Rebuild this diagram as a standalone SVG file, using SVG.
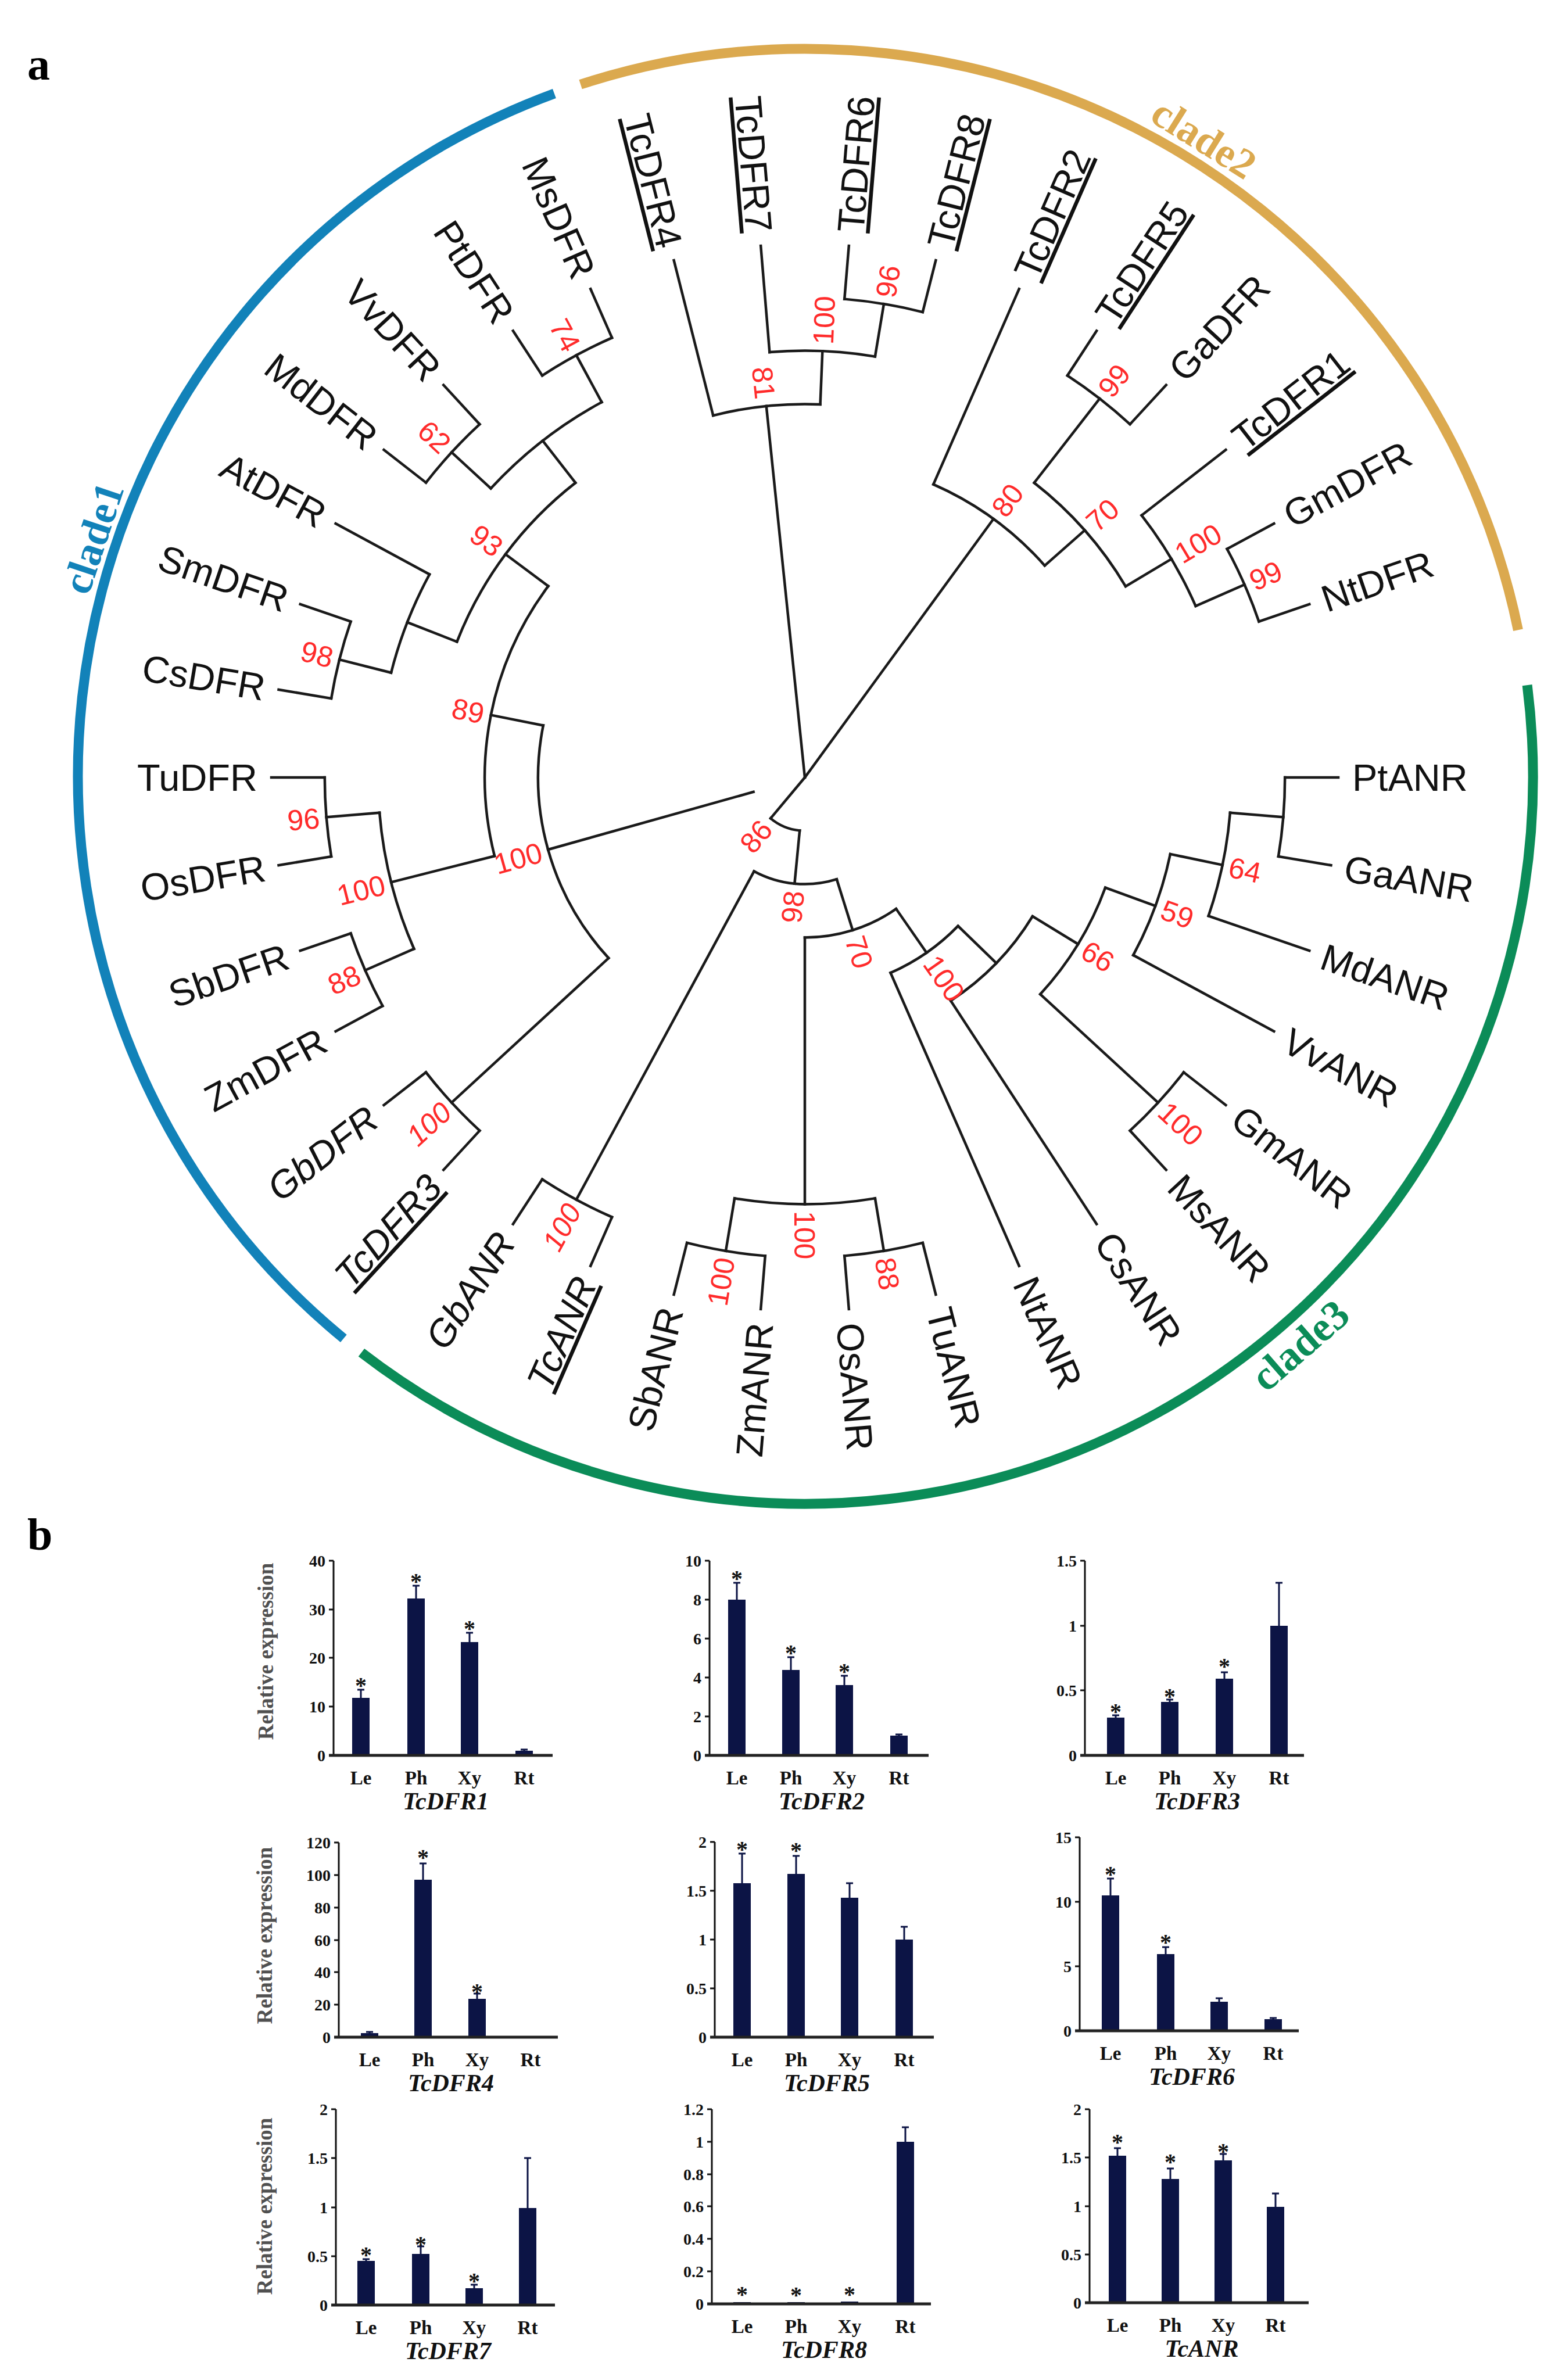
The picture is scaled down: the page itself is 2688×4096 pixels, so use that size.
<svg xmlns="http://www.w3.org/2000/svg" width="2688" height="4096" viewBox="0 0 2688 4096">
<style>
.br{fill:none;stroke:#1a1a1a;stroke-width:4.5;stroke-linecap:square}
.lf{font-family:"Liberation Sans",Arial,sans-serif;font-size:65px;fill:#111}
.lf .r{text-anchor:end}
.it{font-style:italic}
.u{text-decoration:underline}
.bs{font-family:"Liberation Sans",Arial,sans-serif;font-size:50px;fill:#ff2b2b}
.cl{font-family:"Liberation Serif","Times New Roman",serif;font-weight:bold;font-size:72px;text-anchor:middle}
.pl{font-family:"Liberation Serif","Times New Roman",serif;font-weight:bold;font-size:78px;fill:#000}
.ax{stroke:#111;stroke-width:3}
.xa{stroke:#222;stroke-width:5}
.tk{stroke:#111;stroke-width:3;fill:none}
.tl{font-family:"Liberation Serif","Times New Roman",serif;font-weight:bold;font-size:28px;text-anchor:end;fill:#111}
.bar{fill:#0c1445}
.eb{stroke:#0c1445;stroke-width:3;fill:none}
.ast{font-family:"Liberation Serif","Times New Roman",serif;font-weight:bold;font-size:40px;text-anchor:middle;fill:#111}
.xl{font-family:"Liberation Serif","Times New Roman",serif;font-weight:bold;font-size:33px;text-anchor:middle;fill:#111}
.gn{font-family:"Liberation Serif","Times New Roman",serif;font-weight:bold;font-style:italic;font-size:42px;text-anchor:middle;fill:#111}
.yl{font-family:"Liberation Serif","Times New Roman",serif;font-weight:bold;font-size:37px;text-anchor:middle;fill:#505050}
</style>
<rect width="2688" height="4096" fill="#fff"/>
<text class="pl" x="47" y="137">a</text>
<text class="pl" x="47" y="2667">b</text>

<g id="clades" transform="translate(1386 1336)">
<circle r="1252" fill="none" stroke="#1282b9" stroke-width="17" stroke-dasharray="2630.9 9000" transform="rotate(129.4)"/>
<circle r="1252" fill="none" stroke="#dba94f" stroke-width="17" stroke-dasharray="2106.4 9000" transform="rotate(252)"/>
<circle r="1252" fill="none" stroke="#0b8c58" stroke-width="17" stroke-dasharray="2945.5 9000" transform="rotate(352.8)"/>
<text class="cl" fill="#1282b9" dy="0.3em" transform="rotate(198.5) translate(1290 0) rotate(90)">clade1</text>
<text class="cl" fill="#dba94f" dy="0.3em" transform="rotate(302) translate(1292 0) rotate(90)">clade2</text>
<text class="cl" fill="#0b8c58" dy="0.3em" transform="rotate(49) translate(1300 0) rotate(-90)">clade3</text>
</g>

<g id="tree" transform="translate(1385 1338)">
<g id="connectors" class="br">
<line x2="642.6" transform="rotate(264.079)"/>
<line x2="550.8" transform="rotate(306.118)"/>
<line x2="91.8" transform="rotate(129.912)"/>
<line x1="91.8" x2="459" transform="rotate(164.309)"/>
<line x1="91.8" x2="183.6" transform="rotate(95.514)"/>
<line x1="183.6" x2="826.2" transform="rotate(118.421)"/>
<line x1="183.6" x2="275.4" transform="rotate(72.607)"/>
<line x1="275.4" x2="734.4" transform="rotate(90)"/>
<line x1="275.4" x2="367.2" transform="rotate(55.214)"/>
<line x1="367.2" x2="918" transform="rotate(66.316)"/>
<line x1="367.2" x2="459" transform="rotate(44.112)"/>
<line x1="459" x2="918" transform="rotate(56.842)"/>
<line x1="459" x2="550.8" transform="rotate(31.382)"/>
<line x1="550.8" x2="826.2" transform="rotate(42.632)"/>
<line x1="550.8" x2="642.6" transform="rotate(20.132)"/>
<line x1="642.6" x2="918" transform="rotate(28.421)"/>
<line x1="642.6" x2="734.4" transform="rotate(11.842)"/>
<line x1="734.4" x2="918" transform="rotate(18.947)"/>
<line x1="734.4" x2="826.2" transform="rotate(4.737)"/>
<line x1="826.2" x2="918" transform="rotate(0)"/>
<line x1="826.2" x2="918" transform="rotate(9.474)"/>
<line x1="826.2" x2="918" transform="rotate(37.895)"/>
<line x1="826.2" x2="918" transform="rotate(47.368)"/>
<line x1="734.4" x2="826.2" transform="rotate(80.526)"/>
<line x1="734.4" x2="826.2" transform="rotate(99.474)"/>
<line x1="826.2" x2="918" transform="rotate(75.789)"/>
<line x1="826.2" x2="918" transform="rotate(85.263)"/>
<line x1="826.2" x2="918" transform="rotate(94.737)"/>
<line x1="826.2" x2="918" transform="rotate(104.211)"/>
<line x1="826.2" x2="918" transform="rotate(113.684)"/>
<line x1="826.2" x2="918" transform="rotate(123.158)"/>
<line x1="459" x2="826.2" transform="rotate(137.368)"/>
<line x1="459" x2="550.8" transform="rotate(191.25)"/>
<line x1="826.2" x2="918" transform="rotate(132.632)"/>
<line x1="826.2" x2="918" transform="rotate(142.105)"/>
<line x1="550.8" x2="734.4" transform="rotate(165.789)"/>
<line x1="550.8" x2="642.6" transform="rotate(216.711)"/>
<line x1="734.4" x2="826.2" transform="rotate(156.316)"/>
<line x1="734.4" x2="826.2" transform="rotate(175.263)"/>
<line x1="826.2" x2="918" transform="rotate(151.579)"/>
<line x1="826.2" x2="918" transform="rotate(161.053)"/>
<line x1="826.2" x2="918" transform="rotate(170.526)"/>
<line x1="826.2" x2="918" transform="rotate(180)"/>
<line x1="642.6" x2="734.4" transform="rotate(201.316)"/>
<line x1="642.6" x2="734.4" transform="rotate(232.105)"/>
<line x1="734.4" x2="826.2" transform="rotate(194.211)"/>
<line x1="734.4" x2="918" transform="rotate(208.421)"/>
<line x1="826.2" x2="918" transform="rotate(189.474)"/>
<line x1="826.2" x2="918" transform="rotate(198.947)"/>
<line x1="734.4" x2="826.2" transform="rotate(222.632)"/>
<line x1="734.4" x2="826.2" transform="rotate(241.579)"/>
<line x1="826.2" x2="918" transform="rotate(217.895)"/>
<line x1="826.2" x2="918" transform="rotate(227.368)"/>
<line x1="826.2" x2="918" transform="rotate(236.842)"/>
<line x1="826.2" x2="918" transform="rotate(246.316)"/>
<line x1="642.6" x2="918" transform="rotate(255.789)"/>
<line x1="642.6" x2="734.4" transform="rotate(272.368)"/>
<line x1="734.4" x2="918" transform="rotate(265.263)"/>
<line x1="734.4" x2="826.2" transform="rotate(279.474)"/>
<line x1="826.2" x2="918" transform="rotate(274.737)"/>
<line x1="826.2" x2="918" transform="rotate(284.211)"/>
<line x1="550.8" x2="918" transform="rotate(293.684)"/>
<line x1="550.8" x2="642.6" transform="rotate(318.553)"/>
<line x1="642.6" x2="826.2" transform="rotate(307.895)"/>
<line x1="642.6" x2="734.4" transform="rotate(329.211)"/>
<line x1="826.2" x2="918" transform="rotate(303.158)"/>
<line x1="826.2" x2="918" transform="rotate(312.632)"/>
<line x1="734.4" x2="918" transform="rotate(322.105)"/>
<line x1="734.4" x2="826.2" transform="rotate(336.316)"/>
<line x1="826.2" x2="918" transform="rotate(331.579)"/>
<line x1="826.2" x2="918" transform="rotate(341.053)"/>
<circle r="826.2" stroke-dasharray="136.61 9000" transform="rotate(274.737)"/>
<circle r="734.4" stroke-dasharray="182.15 9000" transform="rotate(265.263)"/>
<circle r="642.6" stroke-dasharray="185.94 9000" transform="rotate(255.789)"/>
<circle r="826.2" stroke-dasharray="136.61 9000" transform="rotate(303.158)"/>
<circle r="826.2" stroke-dasharray="136.61 9000" transform="rotate(331.579)"/>
<circle r="734.4" stroke-dasharray="182.15 9000" transform="rotate(322.105)"/>
<circle r="642.6" stroke-dasharray="239.07 9000" transform="rotate(307.895)"/>
<circle r="550.8" stroke-dasharray="239.07 9000" transform="rotate(293.684)"/>
<circle r="826.2" stroke-dasharray="136.61 9000" transform="rotate(0)"/>
<circle r="734.4" stroke-dasharray="182.14 9000" transform="rotate(4.737)"/>
<circle r="642.6" stroke-dasharray="185.94 9000" transform="rotate(11.842)"/>
<circle r="826.2" stroke-dasharray="136.61 9000" transform="rotate(37.895)"/>
<circle r="550.8" stroke-dasharray="216.30 9000" transform="rotate(20.132)"/>
<circle r="459" stroke-dasharray="203.96 9000" transform="rotate(31.382)"/>
<circle r="367.2" stroke-dasharray="142.30 9000" transform="rotate(44.112)"/>
<circle r="826.2" stroke-dasharray="136.61 9000" transform="rotate(75.789)"/>
<circle r="826.2" stroke-dasharray="136.61 9000" transform="rotate(94.737)"/>
<circle r="734.4" stroke-dasharray="242.87 9000" transform="rotate(80.526)"/>
<circle r="275.4" stroke-dasharray="167.21 9000" transform="rotate(55.214)"/>
<circle r="826.2" stroke-dasharray="136.61 9000" transform="rotate(113.684)"/>
<circle r="183.6" stroke-dasharray="146.81 9000" transform="rotate(72.607)"/>
<circle r="826.2" stroke-dasharray="136.61 9000" transform="rotate(132.632)"/>
<circle r="826.2" stroke-dasharray="136.61 9000" transform="rotate(151.579)"/>
<circle r="826.2" stroke-dasharray="136.61 9000" transform="rotate(170.526)"/>
<circle r="734.4" stroke-dasharray="242.86 9000" transform="rotate(156.316)"/>
<circle r="826.2" stroke-dasharray="136.61 9000" transform="rotate(189.474)"/>
<circle r="734.4" stroke-dasharray="182.14 9000" transform="rotate(194.211)"/>
<circle r="826.2" stroke-dasharray="136.61 9000" transform="rotate(217.895)"/>
<circle r="826.2" stroke-dasharray="136.61 9000" transform="rotate(236.842)"/>
<circle r="734.4" stroke-dasharray="242.86 9000" transform="rotate(222.632)"/>
<circle r="642.6" stroke-dasharray="345.31 9000" transform="rotate(201.316)"/>
<circle r="550.8" stroke-dasharray="489.53 9000" transform="rotate(165.789)"/>
<circle r="459" stroke-dasharray="431.66 9000" transform="rotate(137.368)"/>
<circle r="91.8" stroke-dasharray="55.11 9000" transform="rotate(95.514)"/>
</g>

<g id="bootstrap" class="bs">
<text dy="0.36em" transform="rotate(279.474) translate(838 0)">96</text>
<text dy="0.36em" transform="rotate(272.368) translate(746 0)">100</text>
<text dy="0.36em" text-anchor="end" transform="rotate(264.079) translate(655 0) rotate(180)">81</text>
<text dy="0.36em" transform="rotate(307.895) translate(838 0)">99</text>
<text dy="0.36em" transform="rotate(336.316) translate(838 0)">99</text>
<text dy="0.36em" transform="rotate(329.211) translate(746 0)">100</text>
<text dy="0.36em" transform="rotate(318.553) translate(655 0)">70</text>
<text dy="0.36em" transform="rotate(306.118) translate(563 0)">80</text>
<text dy="0.36em" transform="rotate(11.842) translate(746 0)">64</text>
<text dy="0.36em" transform="rotate(20.132) translate(655 0)">59</text>
<text dy="0.36em" transform="rotate(42.632) translate(838 0)">100</text>
<text dy="0.36em" transform="rotate(31.382) translate(563 0)">66</text>
<text dy="0.36em" transform="rotate(55.214) translate(379 0)">100</text>
<text dy="0.36em" transform="rotate(80.526) translate(838 0)">88</text>
<text dy="0.36em" text-anchor="end" transform="rotate(99.474) translate(838 0) rotate(180)">100</text>
<text dy="0.36em" transform="rotate(90) translate(746 0)">100</text>
<text dy="0.36em" transform="rotate(72.607) translate(287 0)">70</text>
<text dy="0.36em" text-anchor="end" class="it" transform="rotate(118.421) translate(838 0) rotate(180)">100</text>
<text dy="0.36em" text-anchor="end" transform="rotate(95.514) translate(196 0) rotate(180)">98</text>
<text dy="0.36em" text-anchor="end" class="it" transform="rotate(137.368) translate(838 0) rotate(180)">100</text>
<text dy="0.36em" text-anchor="end" transform="rotate(156.316) translate(838 0) rotate(180)">88</text>
<text dy="0.36em" text-anchor="end" transform="rotate(175.263) translate(838 0) rotate(180)">96</text>
<text dy="0.36em" text-anchor="end" transform="rotate(165.789) translate(746 0) rotate(180)">100</text>
<text dy="0.36em" text-anchor="end" transform="rotate(194.211) translate(838 0) rotate(180)">98</text>
<text dy="0.36em" text-anchor="end" transform="rotate(222.632) translate(838 0) rotate(180)">62</text>
<text dy="0.36em" text-anchor="end" transform="rotate(241.579) translate(838 0) rotate(180)">74</text>
<text dy="0.36em" text-anchor="end" transform="rotate(216.711) translate(655 0) rotate(180)">93</text>
<text dy="0.36em" text-anchor="end" transform="rotate(191.25) translate(563 0) rotate(180)">89</text>
<text dy="0.36em" text-anchor="end" transform="rotate(164.309) translate(471 0) rotate(180)">100</text>
<text dy="0.36em" text-anchor="end" transform="rotate(129.912) translate(104 0) rotate(180)">86</text>
</g>

<g class="lf">
<g id="PtANR"><text dy="0.36em" transform="rotate(0) translate(942 0)">PtANR</text></g>
<g id="GaANR"><text dy="0.36em" transform="rotate(9.474) translate(942 0)">GaANR</text></g>
<g id="MdANR"><text dy="0.36em" transform="rotate(18.947) translate(942 0)">MdANR</text></g>
<g id="VvANR"><text dy="0.36em" transform="rotate(28.421) translate(942 0)">VvANR</text></g>
<g id="GmANR"><text dy="0.36em" transform="rotate(37.895) translate(942 0)">GmANR</text></g>
<g id="MsANR"><text dy="0.36em" transform="rotate(47.368) translate(942 0)">MsANR</text></g>
<g id="CsANR"><text dy="0.36em" transform="rotate(56.842) translate(942 0)">CsANR</text></g>
<g id="NtANR"><text dy="0.36em" transform="rotate(66.316) translate(942 0)">NtANR</text></g>
<g id="TuANR"><text dy="0.36em" transform="rotate(75.789) translate(942 0)">TuANR</text></g>
<g id="OsANR"><text dy="0.36em" transform="rotate(85.263) translate(942 0)">OsANR</text></g>
<g id="ZmANR"><text class="r" dy="0.36em" transform="rotate(94.737) translate(942 0) rotate(180)">ZmANR</text></g>
<g id="SbANR"><text class="r" dy="0.36em" transform="rotate(104.211) translate(942 0) rotate(180)">SbANR</text></g>
<g id="TcANR"><text class="r it u" dy="0.36em" transform="rotate(113.684) translate(942 0) rotate(180)">TcANR</text></g>
<g id="GbANR"><text class="r it" dy="0.36em" transform="rotate(123.158) translate(942 0) rotate(180)">GbANR</text></g>
<g id="TcDFR3"><text class="r it u" dy="0.36em" transform="rotate(132.632) translate(942 0) rotate(180)">TcDFR3</text></g>
<g id="GbDFR"><text class="r it" dy="0.36em" transform="rotate(142.105) translate(942 0) rotate(180)">GbDFR</text></g>
<g id="ZmDFR"><text class="r" dy="0.36em" transform="rotate(151.579) translate(942 0) rotate(180)">ZmDFR</text></g>
<g id="SbDFR"><text class="r" dy="0.36em" transform="rotate(161.053) translate(942 0) rotate(180)">SbDFR</text></g>
<g id="OsDFR"><text class="r" dy="0.36em" transform="rotate(170.526) translate(942 0) rotate(180)">OsDFR</text></g>
<g id="TuDFR"><text class="r" dy="0.36em" transform="rotate(180) translate(942 0) rotate(180)">TuDFR</text></g>
<g id="CsDFR"><text class="r" dy="0.36em" transform="rotate(189.474) translate(942 0) rotate(180)">CsDFR</text></g>
<g id="SmDFR"><text class="r" dy="0.36em" transform="rotate(198.947) translate(942 0) rotate(180)">SmDFR</text></g>
<g id="AtDFR"><text class="r" dy="0.36em" transform="rotate(208.421) translate(942 0) rotate(180)">AtDFR</text></g>
<g id="MdDFR"><text class="r" dy="0.36em" transform="rotate(217.895) translate(942 0) rotate(180)">MdDFR</text></g>
<g id="VvDFR"><text class="r" dy="0.36em" transform="rotate(227.368) translate(942 0) rotate(180)">VvDFR</text></g>
<g id="PtDFR"><text class="r" dy="0.36em" transform="rotate(236.842) translate(942 0) rotate(180)">PtDFR</text></g>
<g id="MsDFR"><text class="r" dy="0.36em" transform="rotate(246.316) translate(942 0) rotate(180)">MsDFR</text></g>
<g id="TcDFR4"><text class="r u" dy="0.36em" transform="rotate(255.789) translate(942 0) rotate(180)">TcDFR4</text></g>
<g id="TcDFR7"><text class="r u" dy="0.36em" transform="rotate(265.263) translate(942 0) rotate(180)">TcDFR7</text></g>
<g id="TcDFR6"><text class="u" dy="0.36em" transform="rotate(274.737) translate(942 0)">TcDFR6</text></g>
<g id="TcDFR8"><text class="u" dy="0.36em" transform="rotate(284.211) translate(942 0)">TcDFR8</text></g>
<g id="TcDFR2"><text class="u" dy="0.36em" transform="rotate(293.684) translate(942 0)">TcDFR2</text></g>
<g id="TcDFR5"><text class="u" dy="0.36em" transform="rotate(303.158) translate(942 0)">TcDFR5</text></g>
<g id="GaDFR"><text dy="0.36em" transform="rotate(312.632) translate(942 0)">GaDFR</text></g>
<g id="TcDFR1"><text class="u" dy="0.36em" transform="rotate(322.105) translate(942 0)">TcDFR1</text></g>
<g id="GmDFR"><text dy="0.36em" transform="rotate(331.579) translate(942 0)">GmDFR</text></g>
<g id="NtDFR"><text dy="0.36em" transform="rotate(341.053) translate(942 0)">NtDFR</text></g>
</g>
</g>

<g id="charts">
<text class="yl" transform="translate(470 2842) rotate(-90)">Relative expression</text>
<text class="yl" transform="translate(468 3331) rotate(-90)">Relative expression</text>
<text class="yl" transform="translate(468 3797) rotate(-90)">Relative expression</text>

<g id="chart-TcDFR1">
<line class="ax" x1="574" y1="2686" x2="574" y2="3021"/>
<path class="tk" d="M566 2686H574M566 2770H574M566 2853H574M566 2937H574M566 3021H574"/>
<g class="tl"><text x="560" y="2696">40</text><text x="560" y="2780">30</text><text x="560" y="2863">20</text><text x="560" y="2947">10</text><text x="560" y="3031">0</text></g>
<rect class="bar" x="606" y="2922" width="30" height="99"/><rect class="bar" x="701" y="2751" width="30" height="270"/><rect class="bar" x="793" y="2826" width="30" height="195"/><rect class="bar" x="887" y="3013" width="30" height="8"/>
<path class="eb" d="M621 2922V2908M615 2908H627M716 2751V2729M710 2729H722M808 2826V2810M802 2810H814M902 3013V3011M896 3011H908"/>
<line class="xa" x1="566" y1="3021" x2="951" y2="3021"/>
<g class="ast"><text x="621" y="2914">*</text><text x="716" y="2735">*</text><text x="808" y="2816">*</text></g>
<g class="xl"><text x="621" y="3071">Le</text><text x="716" y="3071">Ph</text><text x="808" y="3071">Xy</text><text x="902" y="3071">Rt</text></g>
<text class="gn" x="767" y="3114">TcDFR1</text>
</g>

<g id="chart-TcDFR2">
<line class="ax" x1="1221" y1="2686" x2="1221" y2="3021"/>
<path class="tk" d="M1213 2686H1221M1213 2753H1221M1213 2820H1221M1213 2887H1221M1213 2954H1221M1213 3021H1221"/>
<g class="tl"><text x="1207" y="2696">10</text><text x="1207" y="2763">8</text><text x="1207" y="2830">6</text><text x="1207" y="2897">4</text><text x="1207" y="2964">2</text><text x="1207" y="3031">0</text></g>
<rect class="bar" x="1253" y="2753" width="30" height="268"/><rect class="bar" x="1346" y="2874" width="30" height="147"/><rect class="bar" x="1438" y="2900" width="30" height="121"/><rect class="bar" x="1532" y="2987" width="30" height="34"/>
<path class="eb" d="M1268 2753V2724M1262 2724H1274M1361 2874V2852M1355 2852H1367M1453 2900V2884M1447 2884H1459M1547 2987V2985M1541 2985H1553"/>
<line class="xa" x1="1213" y1="3021" x2="1598" y2="3021"/>
<g class="ast"><text x="1268" y="2730">*</text><text x="1361" y="2858">*</text><text x="1453" y="2890">*</text></g>
<g class="xl"><text x="1268" y="3071">Le</text><text x="1361" y="3071">Ph</text><text x="1453" y="3071">Xy</text><text x="1547" y="3071">Rt</text></g>
<text class="gn" x="1414" y="3114">TcDFR2</text>
</g>

<g id="chart-TcDFR3">
<line class="ax" x1="1867" y1="2686" x2="1867" y2="3021"/>
<path class="tk" d="M1859 2686H1867M1859 2798H1867M1859 2909H1867M1859 3021H1867"/>
<g class="tl"><text x="1853" y="2696">1.5</text><text x="1853" y="2808">1</text><text x="1853" y="2919">0.5</text><text x="1853" y="3031">0</text></g>
<rect class="bar" x="1905" y="2956" width="30" height="65"/><rect class="bar" x="1998" y="2929" width="30" height="92"/><rect class="bar" x="2092" y="2889" width="30" height="132"/><rect class="bar" x="2186" y="2798" width="30" height="223"/>
<path class="eb" d="M1920 2956V2952M1914 2952H1926M2013 2929V2925M2007 2925H2019M2107 2889V2878M2101 2878H2113M2201 2798V2724M2195 2724H2207"/>
<line class="xa" x1="1859" y1="3021" x2="2244" y2="3021"/>
<g class="ast"><text x="1920" y="2959">*</text><text x="2013" y="2933">*</text><text x="2107" y="2881">*</text></g>
<g class="xl"><text x="1920" y="3071">Le</text><text x="2013" y="3071">Ph</text><text x="2107" y="3071">Xy</text><text x="2201" y="3071">Rt</text></g>
<text class="gn" x="2060" y="3114">TcDFR3</text>
</g>

<g id="chart-TcDFR4">
<line class="ax" x1="583" y1="3171" x2="583" y2="3506"/>
<path class="tk" d="M575 3171H583M575 3227H583M575 3283H583M575 3339H583M575 3394H583M575 3450H583M575 3506H583"/>
<g class="tl"><text x="569" y="3181">120</text><text x="569" y="3237">100</text><text x="569" y="3293">80</text><text x="569" y="3349">60</text><text x="569" y="3404">40</text><text x="569" y="3460">20</text><text x="569" y="3516">0</text></g>
<rect class="bar" x="621" y="3499" width="30" height="7"/><rect class="bar" x="713" y="3235" width="30" height="271"/><rect class="bar" x="806" y="3440" width="30" height="66"/><rect class="bar" x="898" y="3504" width="30" height="2"/>
<path class="eb" d="M636 3499V3497M630 3497H642M728 3235V3207M722 3207H734M821 3440V3431M815 3431H827"/>
<line class="xa" x1="575" y1="3506" x2="960" y2="3506"/>
<g class="ast"><text x="728" y="3210">*</text><text x="821" y="3441">*</text></g>
<g class="xl"><text x="636" y="3556">Le</text><text x="728" y="3556">Ph</text><text x="821" y="3556">Xy</text><text x="913" y="3556">Rt</text></g>
<text class="gn" x="776" y="3599">TcDFR4</text>
</g>

<g id="chart-TcDFR5">
<line class="ax" x1="1230" y1="3170" x2="1230" y2="3506"/>
<path class="tk" d="M1222 3170H1230M1222 3254H1230M1222 3338H1230M1222 3422H1230M1222 3506H1230"/>
<g class="tl"><text x="1216" y="3180">2</text><text x="1216" y="3264">1.5</text><text x="1216" y="3348">1</text><text x="1216" y="3432">0.5</text><text x="1216" y="3516">0</text></g>
<rect class="bar" x="1262" y="3241" width="30" height="265"/><rect class="bar" x="1355" y="3225" width="30" height="281"/><rect class="bar" x="1447" y="3266" width="30" height="240"/><rect class="bar" x="1541" y="3338" width="30" height="168"/>
<path class="eb" d="M1277 3241V3190M1271 3190H1283M1370 3225V3194M1364 3194H1376M1462 3266V3241M1456 3241H1468M1556 3338V3316M1550 3316H1562"/>
<line class="xa" x1="1222" y1="3506" x2="1607" y2="3506"/>
<g class="ast"><text x="1277" y="3196">*</text><text x="1370" y="3198">*</text></g>
<g class="xl"><text x="1277" y="3556">Le</text><text x="1370" y="3556">Ph</text><text x="1462" y="3556">Xy</text><text x="1556" y="3556">Rt</text></g>
<text class="gn" x="1423" y="3599">TcDFR5</text>
</g>

<g id="chart-TcDFR6">
<line class="ax" x1="1858" y1="3162" x2="1858" y2="3495"/>
<path class="tk" d="M1850 3162H1858M1850 3273H1858M1850 3384H1858M1850 3495H1858"/>
<g class="tl"><text x="1844" y="3172">15</text><text x="1844" y="3283">10</text><text x="1844" y="3394">5</text><text x="1844" y="3505">0</text></g>
<rect class="bar" x="1896" y="3262" width="30" height="233"/><rect class="bar" x="1991" y="3363" width="30" height="132"/><rect class="bar" x="2083" y="3445" width="30" height="50"/><rect class="bar" x="2176" y="3475" width="30" height="20"/>
<path class="eb" d="M1911 3262V3233M1905 3233H1917M2006 3363V3351M2000 3351H2012M2098 3445V3439M2092 3439H2104M2191 3475V3473M2185 3473H2197"/>
<line class="xa" x1="1850" y1="3495" x2="2235" y2="3495"/>
<g class="ast"><text x="1911" y="3239">*</text><text x="2006" y="3356">*</text></g>
<g class="xl"><text x="1911" y="3545">Le</text><text x="2006" y="3545">Ph</text><text x="2098" y="3545">Xy</text><text x="2191" y="3545">Rt</text></g>
<text class="gn" x="2051" y="3588">TcDFR6</text>
</g>

<g id="chart-TcDFR7">
<line class="ax" x1="578" y1="3630" x2="578" y2="3967"/>
<path class="tk" d="M570 3630H578M570 3714H578M570 3799H578M570 3883H578M570 3967H578"/>
<g class="tl"><text x="564" y="3640">2</text><text x="564" y="3724">1.5</text><text x="564" y="3809">1</text><text x="564" y="3893">0.5</text><text x="564" y="3977">0</text></g>
<rect class="bar" x="615" y="3891" width="30" height="76"/><rect class="bar" x="709" y="3879" width="30" height="88"/><rect class="bar" x="801" y="3938" width="30" height="29"/><rect class="bar" x="893" y="3800" width="30" height="167"/>
<path class="eb" d="M630 3891V3888M624 3888H636M724 3879V3866M718 3866H730M816 3938V3932M810 3932H822M908 3800V3714M902 3714H914"/>
<line class="xa" x1="570" y1="3967" x2="955" y2="3967"/>
<g class="ast"><text x="630" y="3894">*</text><text x="724" y="3876">*</text><text x="816" y="3939">*</text></g>
<g class="xl"><text x="630" y="4017">Le</text><text x="724" y="4017">Ph</text><text x="816" y="4017">Xy</text><text x="908" y="4017">Rt</text></g>
<text class="gn" x="771" y="4060">TcDFR7</text>
</g>

<g id="chart-TcDFR8">
<line class="ax" x1="1225" y1="3630" x2="1225" y2="3965"/>
<path class="tk" d="M1217 3630H1225M1217 3686H1225M1217 3742H1225M1217 3797H1225M1217 3853H1225M1217 3909H1225M1217 3965H1225"/>
<g class="tl"><text x="1211" y="3640">1.2</text><text x="1211" y="3696">1</text><text x="1211" y="3752">0.8</text><text x="1211" y="3807">0.6</text><text x="1211" y="3863">0.4</text><text x="1211" y="3919">0.2</text><text x="1211" y="3975">0</text></g>
<rect class="bar" x="1262" y="3962" width="30" height="3"/><rect class="bar" x="1355" y="3962" width="30" height="3"/><rect class="bar" x="1447" y="3961" width="30" height="4"/><rect class="bar" x="1543" y="3686" width="30" height="279"/>
<path class="eb" d="M1558 3686V3661M1552 3661H1564"/>
<line class="xa" x1="1217" y1="3965" x2="1602" y2="3965"/>
<g class="ast"><text x="1277" y="3962">*</text><text x="1370" y="3963">*</text><text x="1462" y="3962">*</text></g>
<g class="xl"><text x="1277" y="4015">Le</text><text x="1370" y="4015">Ph</text><text x="1462" y="4015">Xy</text><text x="1558" y="4015">Rt</text></g>
<text class="gn" x="1418" y="4058">TcDFR8</text>
</g>

<g id="chart-TcANR">
<line class="ax" x1="1875" y1="3630" x2="1875" y2="3963"/>
<path class="tk" d="M1867 3630H1875M1867 3713H1875M1867 3797H1875M1867 3880H1875M1867 3963H1875"/>
<g class="tl"><text x="1861" y="3640">2</text><text x="1861" y="3723">1.5</text><text x="1861" y="3807">1</text><text x="1861" y="3890">0.5</text><text x="1861" y="3973">0</text></g>
<rect class="bar" x="1908" y="3710" width="30" height="253"/><rect class="bar" x="1999" y="3750" width="30" height="213"/><rect class="bar" x="2090" y="3718" width="30" height="245"/><rect class="bar" x="2180" y="3798" width="30" height="165"/>
<path class="eb" d="M1923 3710V3697M1917 3697H1929M2014 3750V3732M2008 3732H2020M2105 3718V3707M2099 3707H2111M2195 3798V3775M2189 3775H2201"/>
<line class="xa" x1="1867" y1="3963" x2="2252" y2="3963"/>
<g class="ast"><text x="1923" y="3700">*</text><text x="2014" y="3734">*</text><text x="2105" y="3716">*</text></g>
<g class="xl"><text x="1923" y="4013">Le</text><text x="2014" y="4013">Ph</text><text x="2105" y="4013">Xy</text><text x="2195" y="4013">Rt</text></g>
<text class="gn" x="2068" y="4056">TcANR</text>
</g>
</g>
</svg>
